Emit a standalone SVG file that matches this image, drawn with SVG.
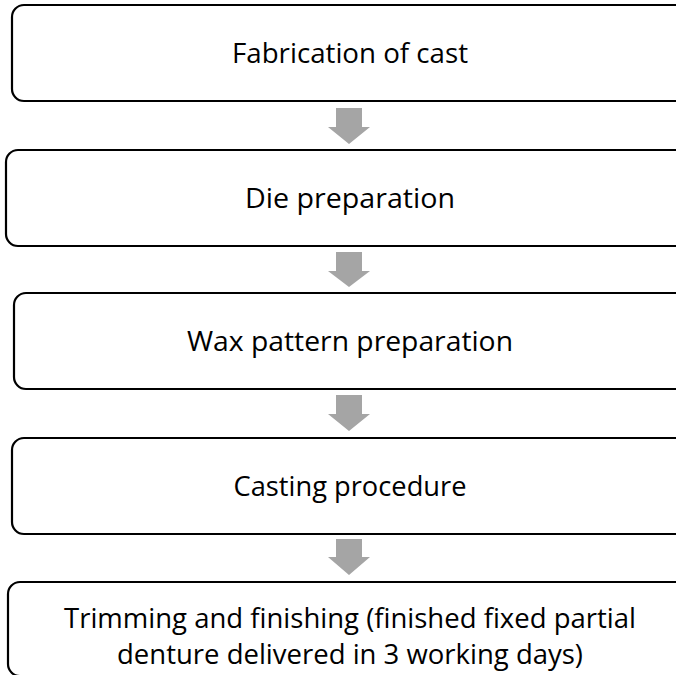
<svg xmlns="http://www.w3.org/2000/svg" width="676" height="675" viewBox="0 0 676 675">
<defs>
<style>
.box{fill:#ffffff;stroke:#000000;stroke-width:2.2}
.lbl{font-family:"Open Sans","Liberation Sans",sans-serif;font-size:27px;fill:#000000;text-anchor:middle}
.arr{fill:#a5a5a5}
</style>
</defs>
<rect width="676" height="675" fill="#ffffff"/>
<g id="connectors">
<polygon class="arr" points="336,108 362,108 362,127 370,127 349,144 328,127 336,127"/>
<polygon class="arr" points="336,252 362,252 362,271 370,271 349,287 328,271 336,271"/>
<polygon class="arr" points="336,395 362,395 362,414 370,414 349,431 328,414 336,414"/>
<polygon class="arr" points="336,539 362,539 362,557 370,557 349,575 328,557 336,557"/>
</g>
<g id="node1">
<rect class="box" x="12" y="5" width="700" height="96" rx="12"/>
<text class="lbl" x="350" y="63" textLength="236" lengthAdjust="spacingAndGlyphs">Fabrication of cast</text>
</g>
<g id="node2">
<rect class="box" x="6" y="150" width="700" height="96" rx="12"/>
<text class="lbl" x="350" y="208" textLength="210" lengthAdjust="spacingAndGlyphs">Die preparation</text>
</g>
<g id="node3">
<rect class="box" x="14" y="293" width="700" height="96" rx="12"/>
<text class="lbl" x="350" y="351" textLength="326" lengthAdjust="spacingAndGlyphs">Wax pattern preparation</text>
</g>
<g id="node4">
<rect class="box" x="12" y="438" width="700" height="96" rx="12"/>
<text class="lbl" x="350" y="496" textLength="233" lengthAdjust="spacingAndGlyphs">Casting procedure</text>
</g>
<g id="node5">
<rect class="box" x="8" y="582" width="700" height="94" rx="12"/>
<text class="lbl" x="350" y="628" textLength="572" lengthAdjust="spacingAndGlyphs">Trimming and finishing (finished fixed partial</text>
<text class="lbl" x="350" y="664" textLength="466" lengthAdjust="spacingAndGlyphs">denture delivered in 3 working days)</text>
</g>
</svg>
